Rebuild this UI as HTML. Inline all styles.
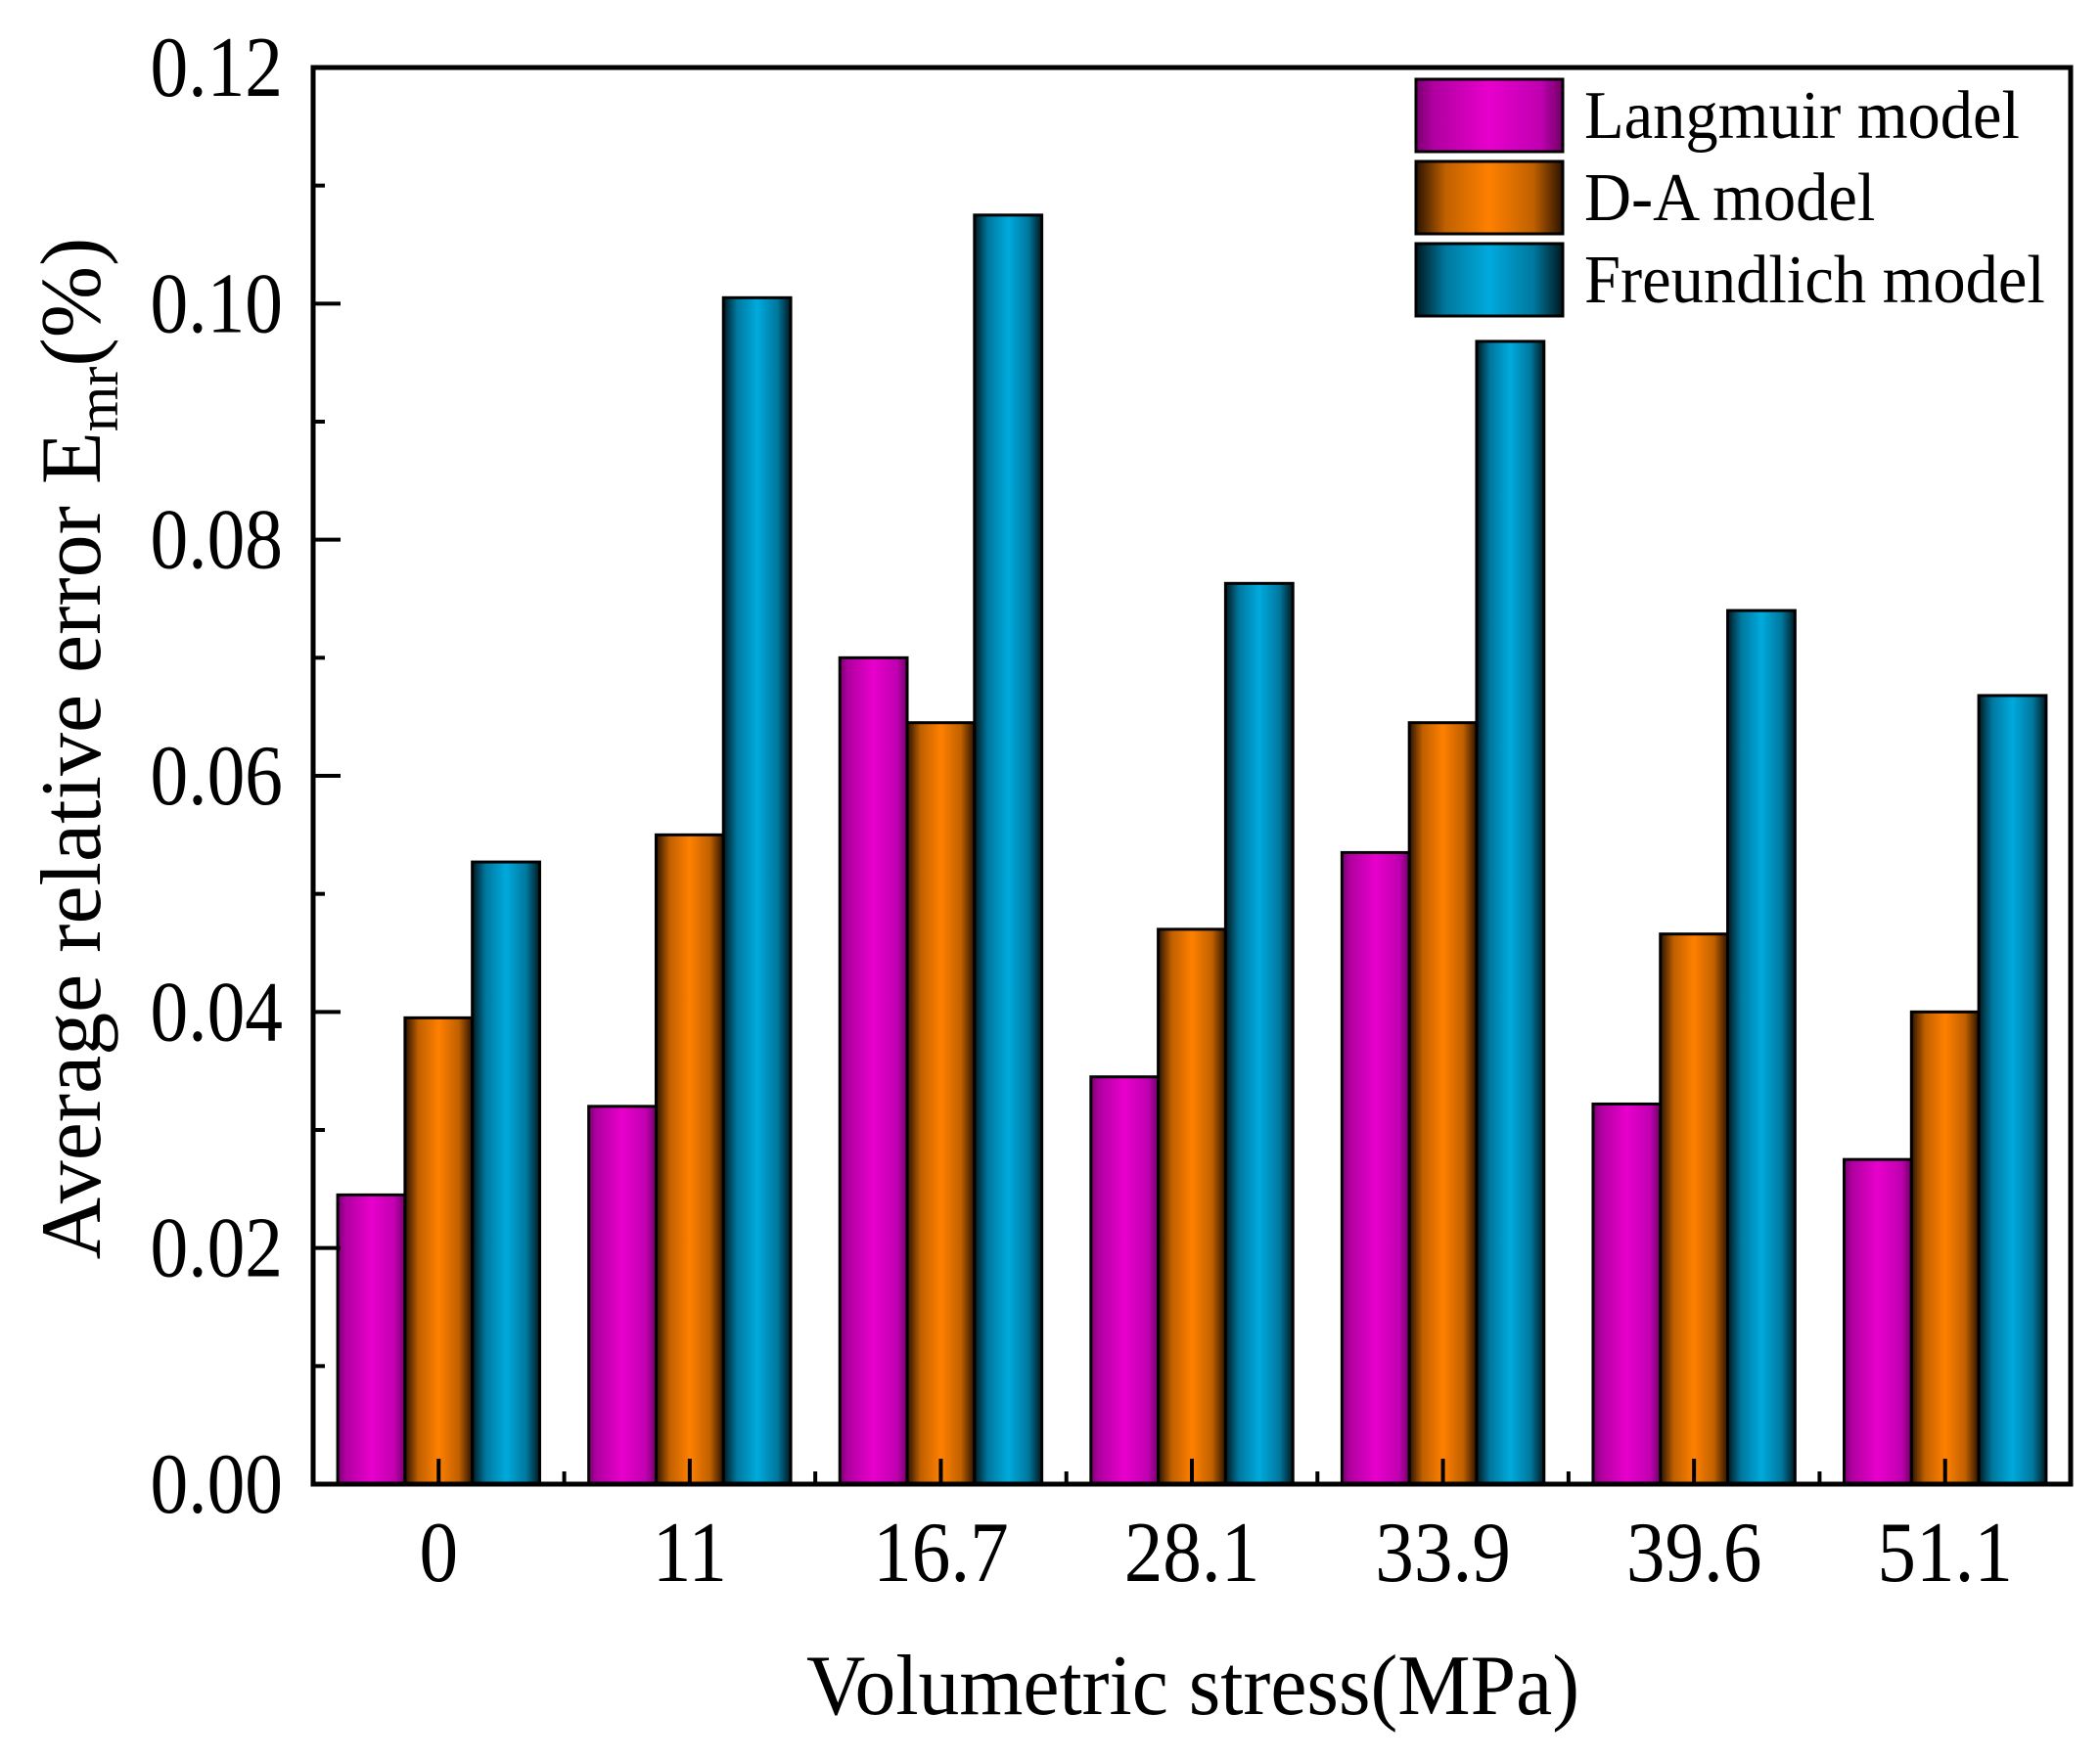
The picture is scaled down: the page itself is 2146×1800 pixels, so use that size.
<!DOCTYPE html>
<html><head><meta charset="utf-8"><style>
html,body{margin:0;padding:0;background:#fff;}
svg{display:block;}
text{font-family:"Liberation Serif",serif;fill:#000;}
</style></head><body>
<svg id="chart" width="2146" height="1800" viewBox="0 0 2146 1800" xmlns="http://www.w3.org/2000/svg">
<defs>
<linearGradient id="gM" x1="0" x2="1" y1="0" y2="0"><stop offset="0" stop-color="#7a0070"/><stop offset="0.12" stop-color="#b000a0"/><stop offset="0.5" stop-color="#e800cc"/><stop offset="0.85" stop-color="#c000b0"/><stop offset="1" stop-color="#700066"/></linearGradient>
<linearGradient id="gO" x1="0" x2="1" y1="0" y2="0"><stop offset="0" stop-color="#2a1200"/><stop offset="0.2" stop-color="#c06000"/><stop offset="0.5" stop-color="#ff8000"/><stop offset="0.8" stop-color="#c06000"/><stop offset="1" stop-color="#2a1200"/></linearGradient>
<linearGradient id="gB" x1="0" x2="1" y1="0" y2="0"><stop offset="0" stop-color="#001820"/><stop offset="0.2" stop-color="#00789e"/><stop offset="0.5" stop-color="#00aadd"/><stop offset="0.8" stop-color="#00789e"/><stop offset="1" stop-color="#001820"/></linearGradient>
</defs>
<g id="bars"></g>
<g id="axes"></g>
<g id="legend"></g>
</svg>
<script>
const categories = ["0","11","16.7","28.1","33.9","39.6","51.1"];
const langmuir = [0.0245,0.032,0.070,0.0345,0.0535,0.0322,0.0275];
const daModel = [0.0395,0.055,0.0645,0.047,0.0645,0.0466,0.040];
const freundlich = [0.0527,0.1005,0.1075,0.0763,0.0968,0.0740,0.0668];
const yTicks = ["0.00","0.02","0.04","0.06","0.08","0.10","0.12"];
const seriesNames = ["Langmuir model","D-A model","Freundlich model"];

const NS="http://www.w3.org/2000/svg";
const L=320,R=2116,T=69,B=1517,YMAX=0.12;
const gw=(R-L)/categories.length, bw=68.8;
function y(v){return B-(v/YMAX)*(B-T);}
function xc(i){return L+gw*(i+0.5);}
function mk(tag,attrs,parent){const e=document.createElementNS(NS,tag);for(const k in attrs)e.setAttribute(k,attrs[k]);parent.appendChild(e);return e;}
const bars=document.getElementById('bars'),axes=document.getElementById('axes'),leg=document.getElementById('legend');
const series=[langmuir,daModel,freundlich],fills=["url(#gM)","url(#gO)","url(#gB)"],snames=["langmuir","da","freundlich"];
series.forEach((s,si)=>{s.forEach((v,i)=>{
  const x=xc(i)+(si-1.5)*bw;
  const r=mk('rect',{x:x,y:y(v),width:bw,height:B-y(v),fill:fills[si],stroke:"#000","stroke-width":3},bars);
  
  
});});
const fr=mk('rect',{x:L,y:T,width:R-L,height:B-T,fill:"none",stroke:"#000","stroke-width":5},axes);


for(let k=0;k<=12;k++){
  const v=k*0.01,yy=y(v),len=(k%2===0)?28:12;
  mk('line',{x1:L,x2:L+len,y1:yy,y2:yy,stroke:"#000","stroke-width":4},axes);
}
yTicks.forEach((t,i)=>{
  const tx=mk('text',{x:0,y:0,"text-anchor":"end","font-size":88,transform:"translate(289,"+(y(i*0.02)+29)+") scale(0.88,1)"},axes);
  tx.textContent=t;
  
  
});
categories.forEach((c,i)=>{
  mk('line',{x1:xc(i),x2:xc(i),y1:B,y2:B-26,stroke:"#000","stroke-width":4},axes);
  if(i>0) mk('line',{x1:L+gw*i,x2:L+gw*i,y1:B,y2:B-13,stroke:"#000","stroke-width":4},axes);
  const tx=mk('text',{x:0,y:0,"text-anchor":"middle","font-size":88,transform:"translate("+xc(i)+",1616) scale(0.9,1)"},axes);
  tx.textContent=c;
  
  
});
const xt=mk('text',{x:0,y:0,"text-anchor":"middle","font-size":88,transform:"translate(1219,1752) scale(0.95,1)"},axes);
xt.textContent="Volumetric stress(MPa)";


const yt=mk('text',{x:0,y:0,"text-anchor":"middle","font-size":88,transform:"translate(102,765) rotate(-90)"},axes);
yt.innerHTML='Average relative error E<tspan font-size="60" dy="18">mr</tspan><tspan dy="-18">(%)</tspan>';


seriesNames.forEach((n,i)=>{
  const yy=81+i*84;
  const sw=mk('rect',{x:1447,y:yy,width:150,height:74,fill:fills[i],stroke:"#000","stroke-width":3},leg);
  
  
  const tx=mk('text',{x:0,y:0,"font-size":70,transform:"translate(1619,"+(yy+60)+") scale(0.95,1)"},leg);
  tx.textContent=n;
  
  
});
</script>
</body></html>
